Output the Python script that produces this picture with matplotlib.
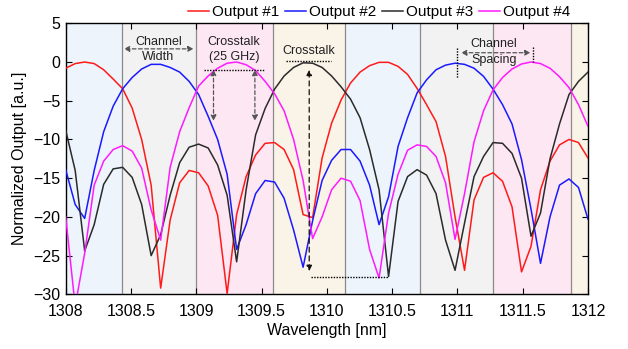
import numpy as np
import matplotlib
matplotlib.use("Agg")
import matplotlib.pyplot as plt

plt.rcParams['font.family'] = ['Liberation Sans', 'DejaVu Sans']

# ---------------- data ----------------
wl_start = 1308.0
wl_step = 4.0 / 55.0
n_pts = 56
wavelength = wl_start + wl_step * np.arange(n_pts)

output1 = [-0.8, -0.2, 0.0, -0.2, -1.0, -2.2, -3.45, -5.95, -10.0, -15.9,
           -29.2, -20.4, -15.6, -14.0, -14.3, -16.0, -19.8, -29.9, -19.7, -14.8,
           -12.0, -10.5, -10.4, -11.3, -13.9, -19.7, -20.1, -12.4, -7.9, -4.9,
           -2.7, -1.3, -0.47, -0.04, -0.04, -0.56, -1.6, -3.4, -5.5, -7.7,
           -12.2, -20.0, -26.9, -17.8, -14.9, -14.3, -15.4, -18.7, -27.1, -23.8,
           -16.5, -12.8, -10.7, -10.0, -10.4, -12.4]
output2 = [-13.9, -18.4, -20.2, -14.0, -9.0, -5.7, -3.45, -2.0, -0.9, -0.3,
           -0.3, -0.7, -1.3, -2.5, -4.2, -7.0, -10.0, -14.5, -24.2, -21.0,
           -17.0, -15.3, -15.5, -17.6, -21.7, -26.5, -20.5, -15.3, -12.7, -11.3,
           -11.3, -12.8, -15.9, -21.0, -17.4, -10.9, -7.2, -4.0, -2.3, -1.0,
           -0.4, -0.15, -0.3, -0.8, -1.85, -3.5, -5.5, -8.0, -12.6, -19.0,
           -26.0, -20.0, -15.9, -15.1, -16.2, -20.3]
output3 = [-8.8, -14.0, -24.4, -21.0, -15.8, -13.8, -13.6, -14.9, -18.4, -25.0,
           -22.3, -17.2, -13.0, -11.0, -10.6, -11.1, -13.3, -17.2, -25.8, -16.5,
           -9.4, -6.0, -3.5, -1.8, -0.7, -0.1, -0.15, -0.7, -1.8, -3.2,
           -4.8, -7.2, -11.3, -16.5, -27.7, -18.0, -14.8, -13.9, -14.6, -17.0,
           -23.0, -26.9, -20.8, -14.8, -12.2, -10.4, -10.5, -11.8, -15.0, -22.5,
           -19.5, -12.5, -8.0, -4.2, -2.5, -1.3]
output4 = [-20.0, -31.5, -24.7, -15.9, -12.8, -11.3, -10.8, -11.5, -13.7, -19.1,
           -23.0, -13.6, -9.0, -5.9, -3.1, -1.8, -0.8, -0.15, 0.0, -0.35,
           -1.1, -2.5, -4.1, -6.3, -10.0, -15.3, -22.8, -20.0, -16.5, -15.0,
           -15.4, -17.9, -24.2, -27.9, -19.5, -14.5, -11.4, -10.7, -10.9, -12.2,
           -15.6, -22.9, -17.0, -10.3, -6.3, -3.6, -2.0, -0.9, -0.25, 0.0,
           -0.2, -0.8, -1.9, -3.3, -5.5, -8.3]

series_labels = ["Output #1", "Output #2", "Output #3", "Output #4"]
series_colors = ["#ff1a1a", "#1a1aff", "#2b2b2b", "#ff1aff"]

band_edges = [1308.0, 1308.43, 1309.0, 1309.59, 1310.14, 1310.71, 1311.27, 1311.87, 1312.0]
band_colors = ["#edf4fc", "#f2f2f2", "#fde7f3", "#faf3e7"]

x_ticks = [1308, 1308.5, 1309, 1309.5, 1310, 1310.5, 1311, 1311.5, 1312]
x_ticklabels = ["1308", "1308.5", "1309", "1309.5", "1310", "1310.5", "1311", "1311.5", "1312"]
y_ticks = [5, 0, -5, -10, -15, -20, -25, -30]

# ---------------- figure ----------------
fig = plt.figure(figsize=(6.28, 3.49), dpi=100)
ax = fig.add_axes([0.1046, 0.1567, 0.8317, 0.7765])

for k in range(len(band_edges) - 1):
    ax.axvspan(band_edges[k], band_edges[k + 1], color=band_colors[k % 4], lw=0, zorder=0)
for e in band_edges[1:-1]:
    ax.axvline(e, color="#8a8a8a", lw=0.9, zorder=1)

for vals, lab, col in zip([output1, output2, output3, output4], series_labels, series_colors):
    ax.plot(wavelength, vals, color=col, lw=1.1, label=lab, zorder=3)

ax.set_xlim(1308, 1312)
ax.set_ylim(-30, 5)
ax.set_xticks(x_ticks)
ax.set_xticklabels(x_ticklabels)
ax.set_yticks(y_ticks)
ax.tick_params(direction="in", top=True, right=True, labelsize=11.5, length=4, width=0.8, pad=4)
ax.tick_params(axis="x", pad=7)
for s in ax.spines.values():
    s.set_linewidth(1.0)
ax.set_xlabel("Wavelength [nm]", fontsize=11.5, labelpad=3)
ax.set_ylabel("Normalized Output [a.u.]", fontsize=11.5, labelpad=4)

# ---------------- annotations ----------------
txt_kw = dict(fontsize=9, color="#222222", ha="center", va="center", zorder=6)
dash_grey = dict(arrowstyle="<|-|>", ls=(0, (3, 2)), color="#555555", lw=0.9,
                 shrinkA=0, shrinkB=0, mutation_scale=8)
dash_black = dict(arrowstyle="<|-|>", ls=(0, (4, 3)), color="#111111", lw=0.9,
                  shrinkA=0, shrinkB=0, mutation_scale=8)

# Channel Width
ax.text(1308.71, 2.6, "Channel", **txt_kw)
ax.text(1308.71, 0.6, "Width", **txt_kw)
ax.annotate("", xy=(1308.445, 1.7), xytext=(1308.98, 1.7), arrowprops=dash_grey, zorder=6)

# Crosstalk (25 GHz)
ax.text(1309.29, 2.6, "Crosstalk", **txt_kw)
ax.text(1309.29, 0.65, "(25 GHz)", **txt_kw)
ax.plot([1309.06, 1309.52], [-1.0, -1.0], color="black", ls=(0, (1, 1)), lw=1.0, zorder=5)
for xa in [1309.132, 1309.449]:
    ax.annotate("", xy=(xa, -1.0), xytext=(xa, -7.6), arrowprops=dash_grey, zorder=6)

# Crosstalk
ax.text(1309.86, 1.4, "Crosstalk", **txt_kw)
ax.plot([1309.69, 1310.03], [0.1, 0.1], color="black", ls=(0, (1, 1)), lw=1.0, zorder=5)
ax.annotate("", xy=(1309.865, -1.0), xytext=(1309.865, -27.0), arrowprops=dash_black, zorder=6)
ax.plot([1309.875, 1310.47], [-27.7, -27.7], color="black", ls=(0, (1, 1)), lw=1.0, zorder=5)

# Channel Spacing
ax.text(1311.28, 2.3, "Channel", **txt_kw)
ax.text(1311.28, 0.3, "Spacing", **txt_kw)
ax.annotate("", xy=(1311.027, 1.2), xytext=(1311.56, 1.2), arrowprops=dash_grey, zorder=6)
ax.plot([1310.994, 1310.994], [1.8, -2.1], color="black", ls=(0, (1, 1)), lw=1.0, zorder=5)
ax.plot([1311.58, 1311.58], [2.0, -0.05], color="black", ls=(0, (1, 1)), lw=1.0, zorder=5)

leg = ax.legend(loc="center", bbox_to_anchor=(0.6035, 0.966), bbox_transform=fig.transFigure,
                ncol=4, frameon=False, handlelength=1.4, handletextpad=0.15,
                columnspacing=0.4, fontsize=11, borderpad=0, borderaxespad=0)

fig.savefig("out.png", dpi=100)
